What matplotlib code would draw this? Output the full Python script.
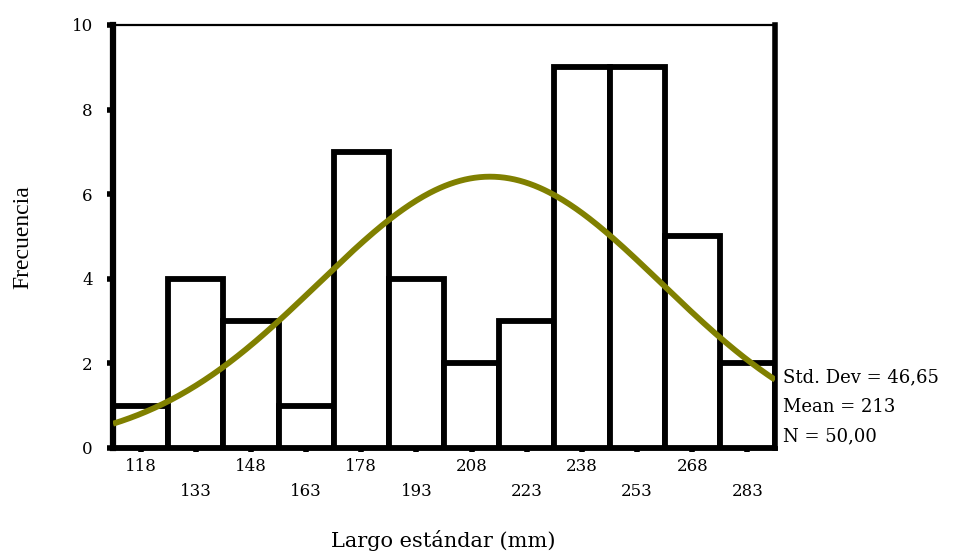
import numpy as np
import matplotlib
matplotlib.use("Agg")
import matplotlib.pyplot as plt
from matplotlib.ticker import FixedLocator

# Histogram of standard length (bin centres, width 15 mm)
bin_centers = [118, 133, 148, 163, 178, 193, 208, 223, 238, 253, 268, 283]
counts = [1, 4, 3, 1, 7, 4, 2, 3, 9, 9, 5, 2]
bin_width = 15

std_dev = 46.65
mean = 213
n_obs = 50

y_ticks = [0, 2, 4, 6, 8, 10]

plt.rcParams["font.family"] = ["DejaVu Serif"]

fig = plt.figure(figsize=(9.61, 5.55), dpi=100)
ax = fig.add_axes([0.1176, 0.1928, 0.8065 - 0.1176, 0.955 - 0.1928])

centers = np.array(bin_centers, dtype=float)
ax.bar(centers, counts, width=bin_width, facecolor="white",
       edgecolor="black", linewidth=4.2, zorder=2)

lo = centers[0] - bin_width / 2
hi = centers[-1] + bin_width / 2

# Fitted normal curve scaled to counts per bin
xs = np.linspace(lo, hi, 400)
pdf = np.exp(-0.5 * ((xs - mean) / std_dev) ** 2) / (std_dev * np.sqrt(2 * np.pi))
ax.plot(xs, pdf * n_obs * bin_width, color="#808000", linewidth=4.2,
        solid_capstyle="butt", zorder=3)

ax.set_xlim(lo, hi)
ax.set_ylim(0, 10)

# Spines: heavy left/right/bottom, light top
ax.spines["left"].set_linewidth(4.5)
ax.spines["right"].set_linewidth(4.0)
ax.spines["bottom"].set_linewidth(3.5)
ax.spines["top"].set_linewidth(1.6)

ax.set_yticks(y_ticks)
ax.set_yticklabels([str(v) for v in y_ticks])
ax.tick_params(axis="y", which="major", direction="out", length=4.5, width=4,
               pad=10, labelsize=12)

# Alternate the x labels over two rows
major = bin_centers[0::2]
minor = bin_centers[1::2]
ax.xaxis.set_major_locator(FixedLocator(major))
ax.xaxis.set_minor_locator(FixedLocator(minor))
ax.set_xticklabels([str(v) for v in major])
ax.set_xticklabels([str(v) for v in minor], minor=True)
ax.tick_params(axis="x", which="major", direction="out", length=3, width=4,
               pad=4, labelsize=12)
ax.tick_params(axis="x", which="minor", direction="out", length=3, width=4,
               pad=22, labelsize=12)

fig.text(0.4615, 0.027, "Largo estándar (mm)", ha="center", va="center",
         fontsize=15)
fig.text(0.024, 0.572, "Frecuencia", ha="center", va="center",
         rotation=90, fontsize=17, family="Liberation Serif")

stats = ["Std. Dev = " + f"{std_dev:.2f}".replace(".", ","),
         f"Mean = {mean}",
         "N = " + f"{n_obs:.2f}".replace(".", ",")]
for i, s in enumerate(stats):
    fig.text(0.815, 1 - (377 + i * 29.5) / 555, s, ha="left", va="center",
             fontsize=13)

fig.savefig("out.png", dpi=100, facecolor="white")
